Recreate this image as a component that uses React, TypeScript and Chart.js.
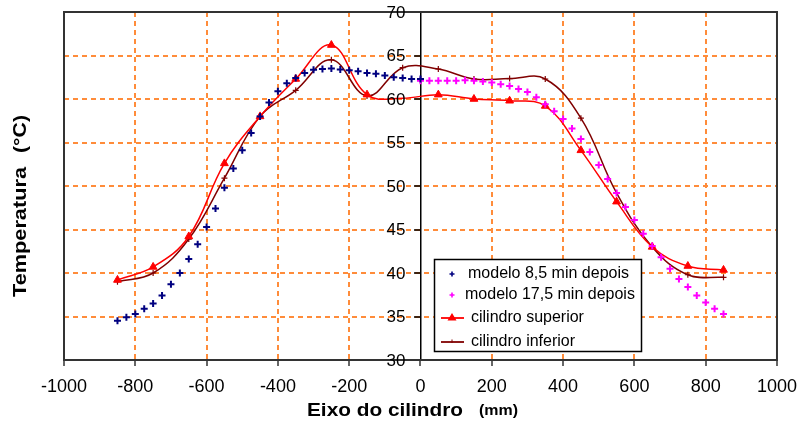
import React, { useEffect, useRef } from 'react';
import { Chart, registerables } from 'chart.js';

Chart.register(...registerables);

const FONT = "'Liberation Sans', Arial, Helvetica, sans-serif";

// Series names (legend)
const seriesNames = [
  'modelo 8,5 min depois',
  'modelo 17,5 min depois',
  'cilindro superior',
  'cilindro inferior',
];

// modelo 8,5 min depois
const modelo85X = [
  -850, -825, -800, -775, -750, -725, -700, -675, -650, -625, -600, -575,
  -550, -525, -500, -475, -450, -425, -400, -375, -350, -325, -300, -275,
  -250, -225, -200, -175, -150, -125, -100, -75, -50, -25, 0,
];
const modelo85Y = [
  34.5, 34.9, 35.3, 35.9, 36.5, 37.4, 38.7, 40.0, 41.6, 43.3, 45.3, 47.4,
  49.8, 52.0, 54.1, 56.1, 58.0, 59.6, 60.9, 61.8, 62.4, 63.0, 63.35, 63.45,
  63.5, 63.4, 63.3, 63.2, 63.0, 62.9, 62.7, 62.5, 62.4, 62.3, 62.3,
];

// modelo 17,5 min depois
const modelo175X = [
  0, 25, 50, 75, 100, 125, 150, 175, 200, 225, 250, 275, 300, 325, 350, 375,
  400, 425, 450, 475, 500, 525, 550, 575, 600, 625, 650, 675, 700, 725, 750,
  775, 800, 825, 850,
];
const modelo175Y = [
  62.1, 62.1, 62.1, 62.1, 62.1, 62.15, 62.1, 62.0, 61.9, 61.7, 61.5, 61.15,
  60.8, 60.2, 59.4, 58.6, 57.7, 56.6, 55.4, 53.9, 52.4, 50.8, 49.2, 47.6,
  46.1, 44.5, 43.1, 41.8, 40.5, 39.3, 38.4, 37.4, 36.6, 35.9, 35.3,
];

// cilindro superior / inferior (measured)
const cilindroX = [
  -850, -750, -650, -550, -450, -350, -250, -150, -50, 50, 150, 250, 350, 450,
  550, 650, 750, 850,
];
const superiorY = [
  39.2, 40.7, 44.2, 52.6, 58.0, 62.3, 66.2, 60.5, 60.1, 60.5, 60.0, 59.8, 59.2,
  54.1, 48.2, 43.0, 40.8, 40.35,
];
const superiorMarkerShown = [
  true, true, true, true, true, true, true, true, false, true, true, true, true,
  true, true, true, true, true,
];
const inferiorY = [
  39.0, 40.0, 43.9, 50.9, 58.0, 61.0, 64.5, 60.35, 63.6, 63.45, 62.3, 62.35,
  62.3, 57.8, 49.2, 43.0, 39.8, 39.5,
];

const yTickValues = [30, 35, 40, 45, 50, 55, 60, 65, 70];

const colors = {
  modelo85: '#000080',
  modelo175: '#FF00FF',
  superior: '#FF0000',
  inferior: '#800000',
  grid: '#FF8C3A',
  frame: '#333333',
};

const toPoints = (xs: number[], ys: number[]) => xs.map((x, i) => ({ x, y: ys[i] }));

function fittedText(ctx: CanvasRenderingContext2D, text: string, x: number, y: number, width: number) {
  const w = ctx.measureText(text).width;
  ctx.save();
  ctx.translate(x, y);
  ctx.scale(width / w, 1);
  ctx.fillText(text, 0, 0);
  ctx.restore();
}

const decorPlugin = {
  id: 'decor',
  beforeDatasetsDraw(chart: any) {
    const { ctx, chartArea: a } = chart;
    ctx.save();
    ctx.strokeStyle = colors.frame;
    ctx.lineWidth = 2;
    ctx.strokeRect(a.left, a.top, a.right - a.left, a.bottom - a.top);
    ctx.restore();
  },
  afterDatasetsDraw(chart: any) {
    const { ctx } = chart;
    const ys = chart.scales.y;
    const xs = chart.scales.x;
    const axisX = xs.getPixelForValue(0);
    ctx.save();
    ctx.fillStyle = '#000';
    ctx.font = `17px ${FONT}`;
    ctx.textAlign = 'right';
    ctx.textBaseline = 'middle';
    yTickValues.forEach((v) => {
      ctx.fillText(String(v), axisX - 15, ys.getPixelForValue(v) + 1);
    });
    ctx.restore();
  },
  afterDraw(chart: any) {
    const { ctx } = chart;
    ctx.save();
    ctx.fillStyle = '#000';
    ctx.textBaseline = 'middle';
    ctx.textAlign = 'left';

    // x title
    ctx.font = `bold 19px ${FONT}`;
    fittedText(ctx, 'Eixo do cilindro', 307, 411, 156);
    ctx.font = `bold 15px ${FONT}`;
    fittedText(ctx, '(mm)', 479, 411, 39);

    // y title
    ctx.save();
    ctx.translate(21, 297);
    ctx.rotate(-Math.PI / 2);
    ctx.font = `bold 19px ${FONT}`;
    fittedText(ctx, 'Temperatura', 0, 0, 130);
    fittedText(ctx, '(°C)', 144, 0, 38);
    ctx.restore();

    // legend
    const L = { x: 434, y: 259, w: 208, h: 93 };
    ctx.fillStyle = '#fff';
    ctx.fillRect(L.x, L.y, L.w, L.h);
    ctx.strokeStyle = '#000';
    ctx.lineWidth = 1.5;
    ctx.strokeRect(L.x + 0.5, L.y + 0.5, L.w - 1, L.h - 1);

    const rows = [
      { y: 274, tx: 468, kind: 'cross', color: colors.modelo85 },
      { y: 295, tx: 465, kind: 'cross', color: colors.modelo175 },
      { y: 318, tx: 471, kind: 'tri', color: colors.superior },
      { y: 342, tx: 471, kind: 'line', color: colors.inferior },
    ];
    rows.forEach((r, i) => {
      const mx = 452;
      ctx.strokeStyle = r.color;
      ctx.fillStyle = r.color;
      if (r.kind === 'cross') {
        ctx.lineWidth = 1.6;
        ctx.beginPath();
        ctx.moveTo(mx - 2.5, r.y);
        ctx.lineTo(mx + 2.5, r.y);
        ctx.moveTo(mx, r.y - 2.5);
        ctx.lineTo(mx, r.y + 2.5);
        ctx.stroke();
      } else {
        ctx.lineWidth = 1.8;
        ctx.beginPath();
        ctx.moveTo(441, r.y);
        ctx.lineTo(464, r.y);
        ctx.stroke();
        if (r.kind === 'tri') {
          ctx.beginPath();
          ctx.moveTo(mx, r.y - 5);
          ctx.lineTo(mx + 4.5, r.y + 2.5);
          ctx.lineTo(mx - 4.5, r.y + 2.5);
          ctx.closePath();
          ctx.fill();
        } else {
          ctx.lineWidth = 1;
          ctx.beginPath();
          ctx.moveTo(mx, r.y - 2.5);
          ctx.lineTo(mx, r.y + 1);
          ctx.stroke();
        }
      }
      ctx.fillStyle = '#000';
      ctx.font = `16px ${FONT}`;
      ctx.fillText(seriesNames[i], r.tx, r.y);
    });
    ctx.restore();
  },
};

export default function App() {
  const canvasRef = useRef<HTMLCanvasElement | null>(null);

  useEffect(() => {
    if (!canvasRef.current) return;
    const chart = new Chart(canvasRef.current, {
      type: 'scatter',
      data: {
        datasets: [
          {
            label: seriesNames[0],
            data: toPoints(modelo85X, modelo85Y),
            showLine: false,
            pointStyle: 'cross',
            pointRadius: 3.5,
            pointBorderWidth: 2,
            borderColor: colors.modelo85,
            backgroundColor: colors.modelo85,
          },
          {
            label: seriesNames[1],
            data: toPoints(modelo175X, modelo175Y),
            showLine: false,
            pointStyle: 'cross',
            pointRadius: 3.5,
            pointBorderWidth: 2,
            borderColor: colors.modelo175,
            backgroundColor: colors.modelo175,
          },
          {
            label: seriesNames[2],
            data: toPoints(cilindroX, superiorY),
            showLine: true,
            tension: 0.4,
            borderWidth: 1.5,
            borderColor: colors.superior,
            backgroundColor: colors.superior,
            pointStyle: 'triangle',
            pointRadius: superiorMarkerShown.map((s) => (s ? 4.5 : 0)),
            pointBorderWidth: 1,
            pointBackgroundColor: colors.superior,
            pointBorderColor: colors.superior,
          },
          {
            label: seriesNames[3],
            data: toPoints(cilindroX, inferiorY),
            showLine: true,
            tension: 0.4,
            borderWidth: 1.5,
            borderColor: colors.inferior,
            backgroundColor: colors.inferior,
            pointStyle: 'cross',
            pointRadius: 3,
            pointBorderWidth: 1.2,
            pointBorderColor: colors.inferior,
          },
        ],
      },
      options: {
        responsive: false,
        animation: false,
        layout: { padding: { left: 64, right: 23, top: 12, bottom: 0 } },
        plugins: {
          legend: { display: false },
          tooltip: { enabled: false },
        },
        scales: {
          x: {
            type: 'linear',
            position: 'bottom',
            min: -1000,
            max: 1000,
            afterFit: (scale: any) => {
              scale.height = 67;
            },
            ticks: {
              stepSize: 200,
              autoSkip: false,
              maxRotation: 0,
              padding: 10,
              color: '#000',
              font: { family: FONT, size: 18 },
              callback: (v: any) => String(v),
            },
            grid: {
              color: (c: any) =>
                c.tick && (c.tick.value === 0 || Math.abs(c.tick.value) === 1000)
                  ? 'rgba(0,0,0,0)'
                  : colors.grid,
              lineWidth: 2,
              tickColor: colors.frame,
              tickLength: 6,
              tickWidth: 1.5,
            },
            border: { display: false, dash: [5, 4] },
            title: { display: false },
          },
          y: {
            type: 'linear',
            position: { x: 0 } as any,
            min: 30,
            max: 70,
            ticks: {
              stepSize: 5,
              display: false,
            },
            grid: {
              color: (c: any) =>
                c.tick && (c.tick.value === 30 || c.tick.value === 70)
                  ? 'rgba(0,0,0,0)'
                  : colors.grid,
              lineWidth: 2,
              tickColor: '#000',
              tickLength: 6,
              tickWidth: 1.5,
            },
            border: { display: true, color: '#000', width: 1.5, dash: [5, 4] },
          },
        },
      },
      plugins: [decorPlugin],
    } as any);
    return () => chart.destroy();
  }, []);

  return (
    <div style={{ position: 'absolute', left: 0, top: 0, width: 807, height: 427, background: '#fff' }}>
      <canvas ref={canvasRef} width={807} height={427} style={{ display: 'block' }} />
    </div>
  );
}
